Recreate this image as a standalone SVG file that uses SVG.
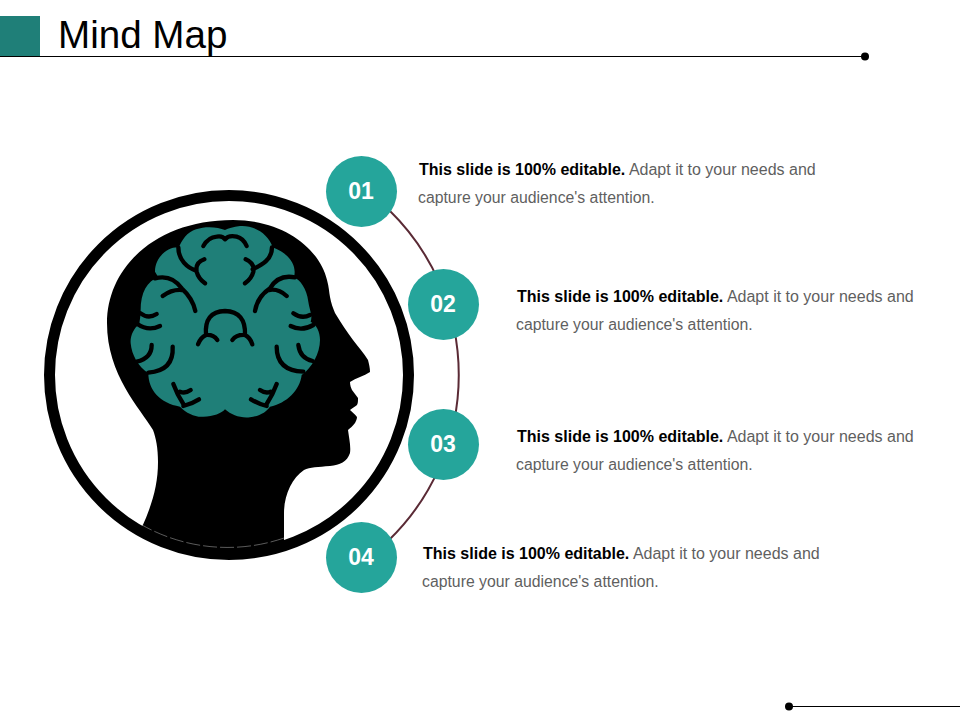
<svg xmlns="http://www.w3.org/2000/svg" width="960" height="720" viewBox="0 0 960 720">
<style>
.n{fill:#25a59b}
.num{font:bold 23px "Liberation Sans",Arial,sans-serif;fill:#fff;text-anchor:middle}
.t{font:16px "Liberation Sans",Arial,sans-serif;fill:#5f5f5f}
.u{font-size:15.8px}
.b{font-weight:bold;fill:#000}
.g{fill:none;stroke:#000;stroke-width:13;stroke-linecap:round;stroke-linejoin:round}
</style>
<g id="header">
<rect x="0" y="16" width="40" height="40" fill="#1f7f78"/>
<text x="58" y="48" font-family="Liberation Sans,Arial,sans-serif" font-size="38.600">Mind Map</text>
<line x1="0" y1="56.500" x2="865" y2="56.500" stroke="#000" stroke-width="1"/>
<circle cx="865" cy="56.500" r="4" fill="#000"/>
</g>
<g id="footer">
<line x1="789" y1="706.500" x2="960" y2="706.500" stroke="#000" stroke-width="1"/>
<circle cx="789" cy="706.500" r="4" fill="#000"/>
</g>
<g id="connectors">
<path d="M389,210 A230,230 0 0 1 389,540" fill="none" stroke="#5a2a35" stroke-width="2"/>
</g>
<g id="head">
<circle cx="229" cy="375" r="179.500" fill="none" stroke="#000" stroke-width="11"/>
<path d="M142,527 C152,505 158,485 158,462 C158,448 156,438 153,430 C140,408 107,375 107,323 C107,268 155,220 233,220 C285,220 320,250 327,280 C329,287 329,292 330,297 C331,303 333,308 335,313 C341,323 347,332 353,340 C358,347 364,353 368,360 C369,364 370,368 370,372 C364,376 356,378 350,382 C350,385 351,388 352,390 C354,393 356,395 358,398 C358,401 358,403 357,405 C355,407 352,408 350,410 C352,412 355,414 357,417 C357,419 356,421 355,423 C353,426 350,428 348,430 C349,438 351,446 350,453 C347,462 340,465 330,466 C318,467 310,467 304,470 C292,478 284,495 284,513 L284,541 A175,175 0 0 1 142,527 Z" fill="#000"/>
<path d="M284,538 A174,174 0 0 1 142,525" fill="none" stroke="#999" stroke-width=".6" stroke-dasharray="14 3"/>
<g transform="translate(100 200) scale(.33333)">
<path d="M375,90 C345,78 285,75 255,110 C245,122 242,132 235,142 C205,140 165,170 165,215 L175,232 C140,245 120,280 122,340 C120,360 118,368 118,372 C100,385 90,410 92,430 C95,465 115,500 145,520 C145,570 180,610 240,620 C260,640 285,652 310,650 C340,650 365,640 375,628 C395,645 420,655 450,652 C480,648 500,635 510,620 C560,610 600,570 605,525 C635,505 660,460 660,420 C660,395 650,375 632,365 C638,345 630,335 625,305 C620,265 600,240 582,232 C590,200 575,165 518,142 C505,100 460,75 420,78 C400,80 385,85 375,90 Z" fill="#1f7f78"/>
<g class="g">
<path d="M310,138 Q325,112 350,110 Q368,107 375,118 Q385,105 410,110 Q430,115 440,138"/>
<path d="M235,142 C235,180 262,203 288,212 M313,178 Q285,188 290,215 Q295,235 315,250"/>
<path d="M516,142 C516,180 485,195 458,208 M437,178 Q465,190 460,215 Q455,235 435,250"/>
<path d="M165,235 Q215,222 245,265 Q278,295 286,333 M188,288 Q215,268 245,270"/>
<path d="M585,232 Q535,222 510,265 Q472,290 465,333 M560,288 Q535,265 507,270"/>
<path d="M294,433 Q302,412 318,405 Q312,335 375,333 Q438,335 435,405 Q450,412 457,433 M318,405 Q340,403 352,420 M435,405 Q410,403 397,420"/>
<path d="M122,340 Q145,358 170,342 M112,372 Q145,395 180,378"/>
<path d="M580,340 Q605,358 630,345 M572,378 Q605,395 640,375"/>
<path d="M155,435 Q155,475 110,485 M218,440 Q222,512 145,518"/>
<path d="M530,440 Q530,512 610,515 M595,435 Q600,475 638,483"/>
<path d="M220,552 Q232,585 250,612 M272,570 Q255,582 240,575 M297,598 Q275,612 250,618"/>
<path d="M530,552 Q518,585 500,612 M480,570 Q497,582 512,575 M453,598 Q475,612 500,618"/>
</g>
</g>
</g>
<g id="node1"><circle class="n" cx="361.500" cy="191.500" r="35.500"/><text class="num" x="361" y="199">01</text></g>
<g id="node2"><circle class="n" cx="443.500" cy="304.500" r="35.500"/><text class="num" x="443" y="312">02</text></g>
<g id="node3"><circle class="n" cx="443.500" cy="444.500" r="35.500"/><text class="num" x="443" y="452">03</text></g>
<g id="node4"><circle class="n" cx="361.500" cy="557.500" r="35.500"/><text class="num" x="361" y="565">04</text></g>
<g id="text1"><text class="t" x="419" y="175"><tspan class="b">This slide is 100% editable.</tspan> Adapt it to your needs and</text><text class="t u" x="418" y="203">capture your audience's attention.</text></g>
<g id="text2"><text class="t" x="517" y="302"><tspan class="b">This slide is 100% editable.</tspan> Adapt it to your needs and</text><text class="t u" x="516" y="330">capture your audience's attention.</text></g>
<g id="text3"><text class="t" x="517" y="442"><tspan class="b">This slide is 100% editable.</tspan> Adapt it to your needs and</text><text class="t u" x="516" y="470">capture your audience's attention.</text></g>
<g id="text4"><text class="t" x="423" y="559"><tspan class="b">This slide is 100% editable.</tspan> Adapt it to your needs and</text><text class="t u" x="422" y="587">capture your audience's attention.</text></g>
</svg>
